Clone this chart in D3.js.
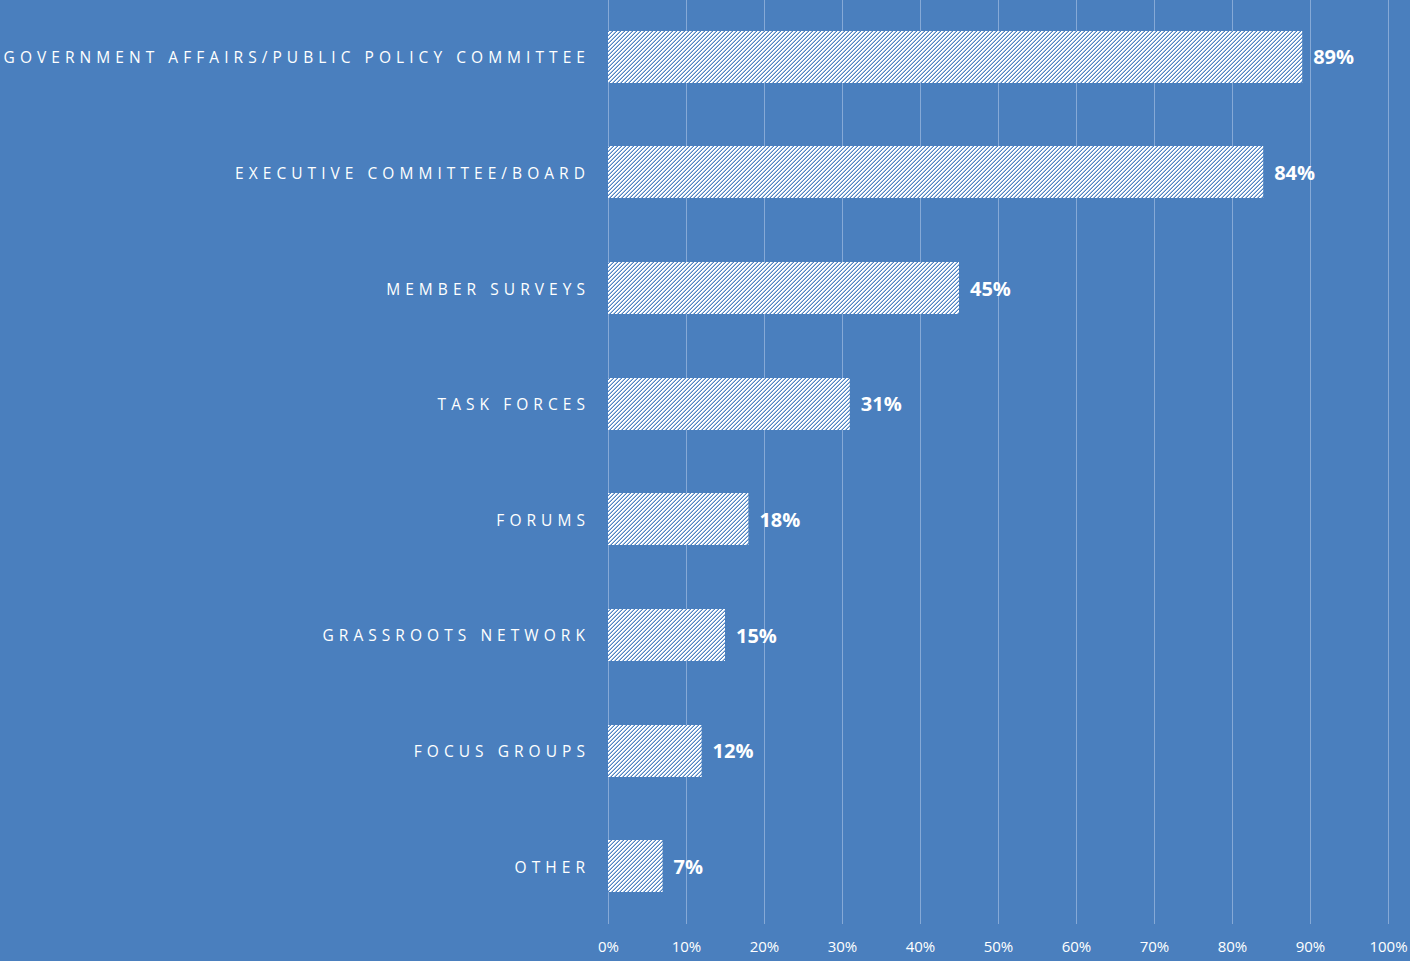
<!DOCTYPE html>
<html>
<head>
<meta charset="utf-8">
<script src="https://cdn.jsdelivr.net/npm/d3@7"></script>
<style>
  html, body { margin: 0; padding: 0; background: #4a7fbe; }
  svg { display: block; }
</style>
</head>
<body>
<svg id="chart" width="1410" height="961"></svg>
<script>
const categories = [
  "GOVERNMENT AFFAIRS/PUBLIC POLICY COMMITTEE",
  "EXECUTIVE COMMITTEE/BOARD",
  "MEMBER SURVEYS",
  "TASK FORCES",
  "FORUMS",
  "GRASSROOTS NETWORK",
  "FOCUS GROUPS",
  "OTHER"
];
const values = [89, 84, 45, 31, 18, 15, 12, 7];
const tickValues = [0, 10, 20, 30, 40, 50, 60, 70, 80, 90, 100];

const W = 1410, H = 961;
const margin = { left: 608, right: 22, top: -1, bottom: 37 };
const bg = "#4a7fbe";
const gridColor = "#86a9d6";

const svg = d3.select("#chart");
svg.append("rect").attr("width", W).attr("height", H).attr("fill", bg);

// pixel-aligned "/" hatch used to fill the bars (4px tile)
const defs = svg.append("defs");
const pat = defs.append("pattern")
  .attr("id", "hatch")
  .attr("patternUnits", "userSpaceOnUse")
  .attr("width", 4).attr("height", 4);
pat.append("rect").attr("width", 4).attr("height", 4).attr("fill", "#ffffff");
const core = [[3, 0], [2, 1], [1, 2], [0, 3]];
const edge = [[2, 0], [1, 1], [0, 2], [3, 3]];
pat.selectAll("rect.core").data(core).join("rect").attr("class", "core")
  .attr("x", d => d[0]).attr("y", d => d[1]).attr("width", 1).attr("height", 1)
  .attr("fill", "#4f83c2");
pat.selectAll("rect.edge").data(edge).join("rect").attr("class", "edge")
  .attr("x", d => d[0]).attr("y", d => d[1]).attr("width", 1).attr("height", 1)
  .attr("fill", "#a6c1e2");

const x = d3.scaleLinear().domain([0, 100]).range([margin.left, W - margin.right]);
const y = d3.scaleBand().domain(categories)
  .range([margin.top, H - margin.bottom]).paddingInner(0.55).paddingOuter(0.275);

// vertical gridlines
svg.append("g").selectAll("line").data(tickValues).join("line")
  .attr("x1", d => Math.round(x(d)) + 0.5).attr("x2", d => Math.round(x(d)) + 0.5)
  .attr("y1", 0).attr("y2", H - margin.bottom)
  .attr("stroke", gridColor).attr("stroke-width", 1);

// x axis tick labels
const xAxis = d3.axisBottom(x).tickValues(tickValues).tickSize(0).tickPadding(0)
  .tickFormat(d => d + "%");
const gx = svg.append("g").attr("transform", `translate(0,${H - margin.bottom})`).call(xAxis);
gx.select(".domain").remove();
gx.selectAll("text")
  .attr("dy", null).attr("y", 28)
  .attr("fill", "#ffffff")
  .style("font-family", "'Open Sans', sans-serif")
  .style("font-size", "15px");

// bars
svg.append("g").selectAll("rect").data(values).join("rect")
  .attr("x", x(0))
  .attr("y", (d, i) => Math.round(y(categories[i])))
  .attr("width", d => x(d) - x(0))
  .attr("height", Math.round(y.bandwidth()))
  .attr("fill", "url(#hatch)");

// value labels
svg.append("g").selectAll("text").data(values).join("text")
  .attr("x", d => x(d) + 11)
  .attr("y", (d, i) => y(categories[i]) + y.bandwidth() / 2)
  .attr("dy", "0.38em")
  .attr("fill", "#ffffff")
  .style("font-family", "'Open Sans', sans-serif")
  .style("font-weight", "700")
  .style("font-size", "20px")
  .text(d => d + "%");

// category labels
svg.append("g").selectAll("text").data(categories).join("text")
  .attr("x", 590)
  .attr("y", d => y(d) + y.bandwidth() / 2)
  .attr("dy", "0.42em")
  .attr("text-anchor", "end")
  .attr("fill", "#ffffff")
  .style("font-family", "'Open Sans', sans-serif")
  .style("font-size", "15.5px")
  .style("letter-spacing", "5.05px")
  .text(d => d);
</script>
</body>
</html>
